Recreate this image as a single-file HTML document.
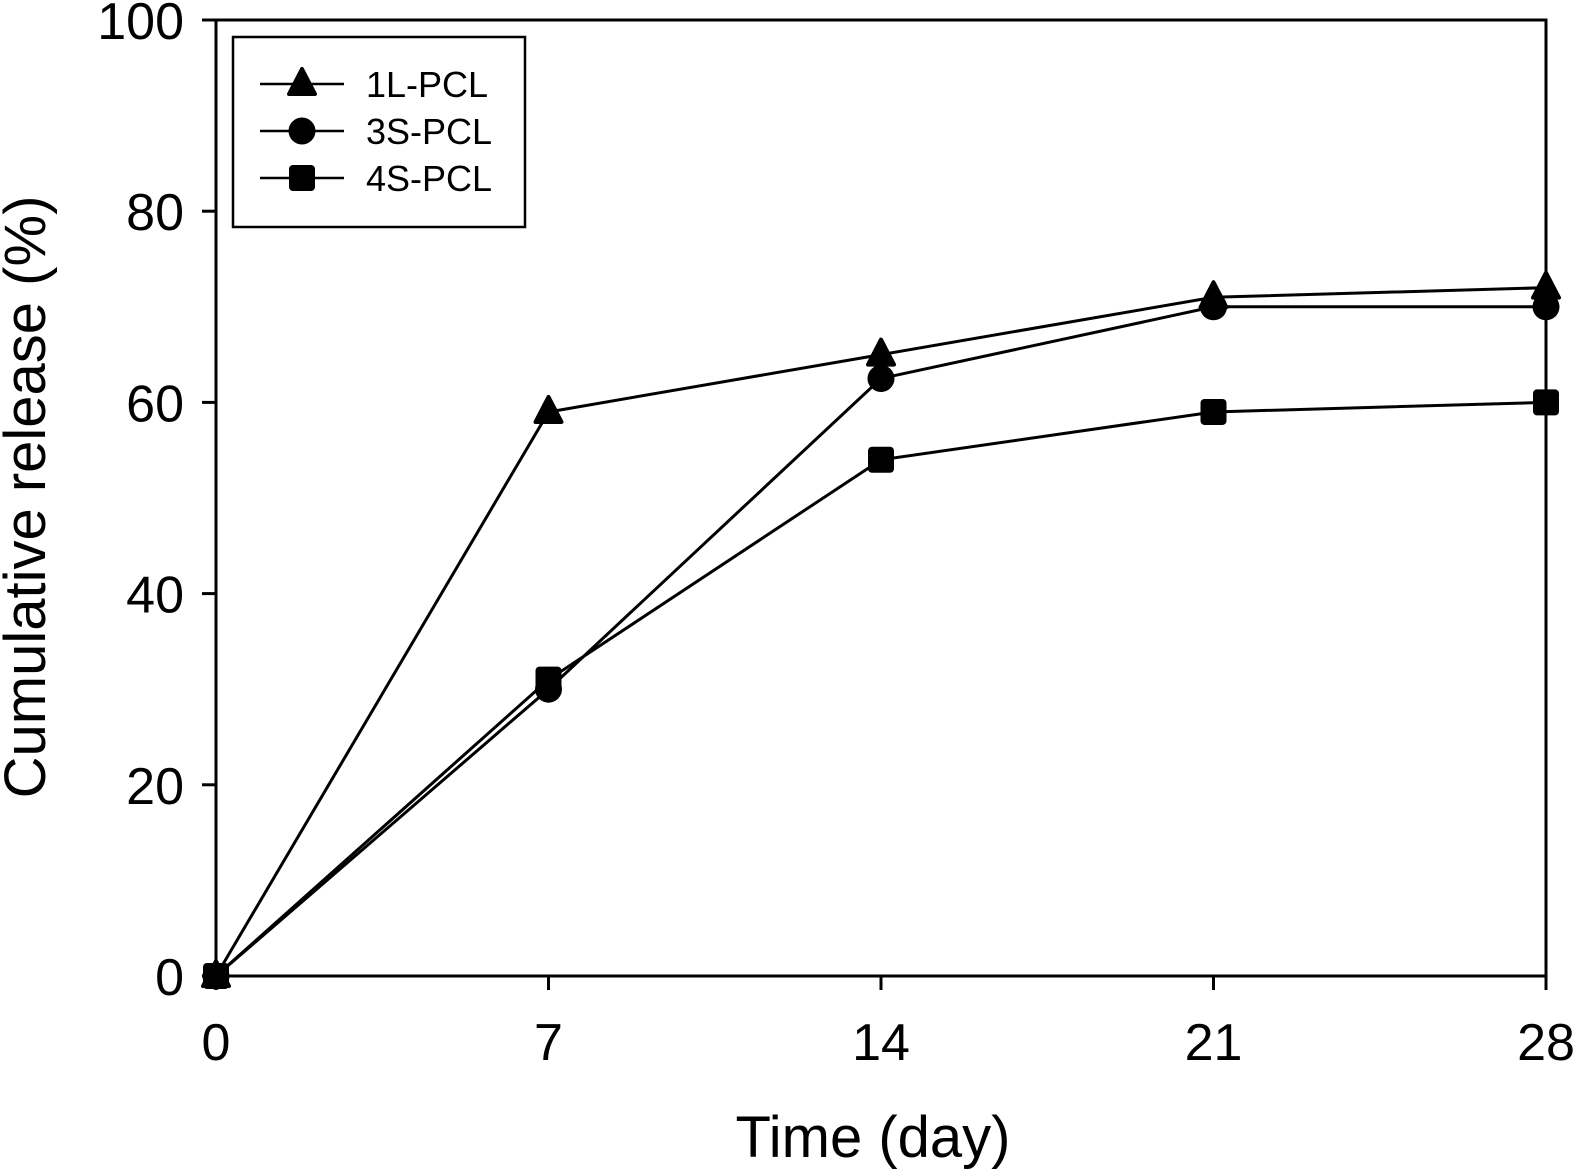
<!DOCTYPE html>
<html><head><meta charset="utf-8"><style>
body{margin:0;background:#fff}
svg{display:block;font-family:"Liberation Sans",Arial,sans-serif}
</style></head><body>
<svg id="c" width="1575" height="1176" viewBox="0 0 1575 1176">
<g id="g"></g>
</svg>
<script>
const days=[0,7,14,21,28];
const s1L=[0,59,65,71,72];
const s3S=[0,30,62.5,70,70];
const s4S=[0,31,54,59,60];
const yTicks=[0,20,40,60,80,100];
const xTicks=[0,7,14,21,28];
const seriesNames=["1L-PCL","3S-PCL","4S-PCL"];
const X0=216,X1=1546,Y0=976,Y1=20;
const xs=v=>X0+(v-0)/28*(X1-X0);
const ys=v=>Y0-(v/100)*(Y0-Y1);
const NS="http://www.w3.org/2000/svg";
const g=document.getElementById('g');
function mk(t,a,p){const e=document.createElementNS(NS,t);for(const k in a)e.setAttribute(k,a[k]);(p||g).appendChild(e);return e;}
let fr=mk('rect',{x:X0,y:Y1,width:X1-X0,height:Y0-Y1,fill:'none',stroke:'#000','stroke-width':3});


yTicks.forEach(v=>{
 let l=mk('line',{x1:X0-14,x2:X0,y1:ys(v),y2:ys(v),stroke:'#000','stroke-width':3});
 
 
 let t=mk('text',{x:X0-32,y:ys(v)+19,'text-anchor':'end','font-size':52});
 t.textContent=v;
 
 
});
xTicks.forEach(v=>{
 let l=mk('line',{x1:xs(v),x2:xs(v),y1:Y0,y2:Y0+14,stroke:'#000','stroke-width':3});
 
 
 let t=mk('text',{x:xs(v),y:1060,'text-anchor':'middle','font-size':52});
 t.textContent=v;
 
 
});
let xt=mk('text',{x:873,y:1157,'text-anchor':'middle','font-size':58});
xt.textContent='Time (day)';


let yt=mk('text',{x:0,y:0,'text-anchor':'middle','font-size':58,transform:'translate(45,497) rotate(-90)'});
yt.textContent='Cumulative release (%)';


function marker(type,x,y,p){
 let e;
 if(type==0)e=mk('path',{d:`M${x} ${y-15} L${x+13} ${y+10} L${x-13} ${y+10}Z`,fill:'#000',stroke:'#000','stroke-width':4,'stroke-linejoin':'round'},p);
 else if(type==1)e=mk('circle',{cx:x,cy:y,r:13.5,fill:'#000'},p);
 else e=mk('rect',{x:x-13,y:y-13,width:26,height:26,rx:4,fill:'#000'},p);
 return e;
}
[s1L,s3S,s4S].forEach((s,i)=>{
 const sg=mk('g',{});
 
 
 const pl=mk('polyline',{points:days.map((d,j)=>xs(d)+','+ys(s[j])).join(' '),fill:'none',stroke:'#000','stroke-width':3},sg);
 
 
 days.forEach((d,j)=>{
  const m=marker(i,xs(d),ys(s[j]),sg);
  
  
 });
});
const lg=mk('g',{});


mk('rect',{x:233,y:37,width:292,height:190,fill:'#fff',stroke:'#000','stroke-width':2.5},lg);
seriesNames.forEach((n,i)=>{
 const y=84+i*47;
 const eg=mk('g',{},lg);
 
 
 mk('line',{x1:260,x2:344,y1:y,y2:y,stroke:'#000','stroke-width':2.5},eg);
 marker(i,302,y,eg);
 const t=mk('text',{x:366,y:y+13,'font-size':36},eg);
 t.textContent=n;
});
</script>
</body></html>
